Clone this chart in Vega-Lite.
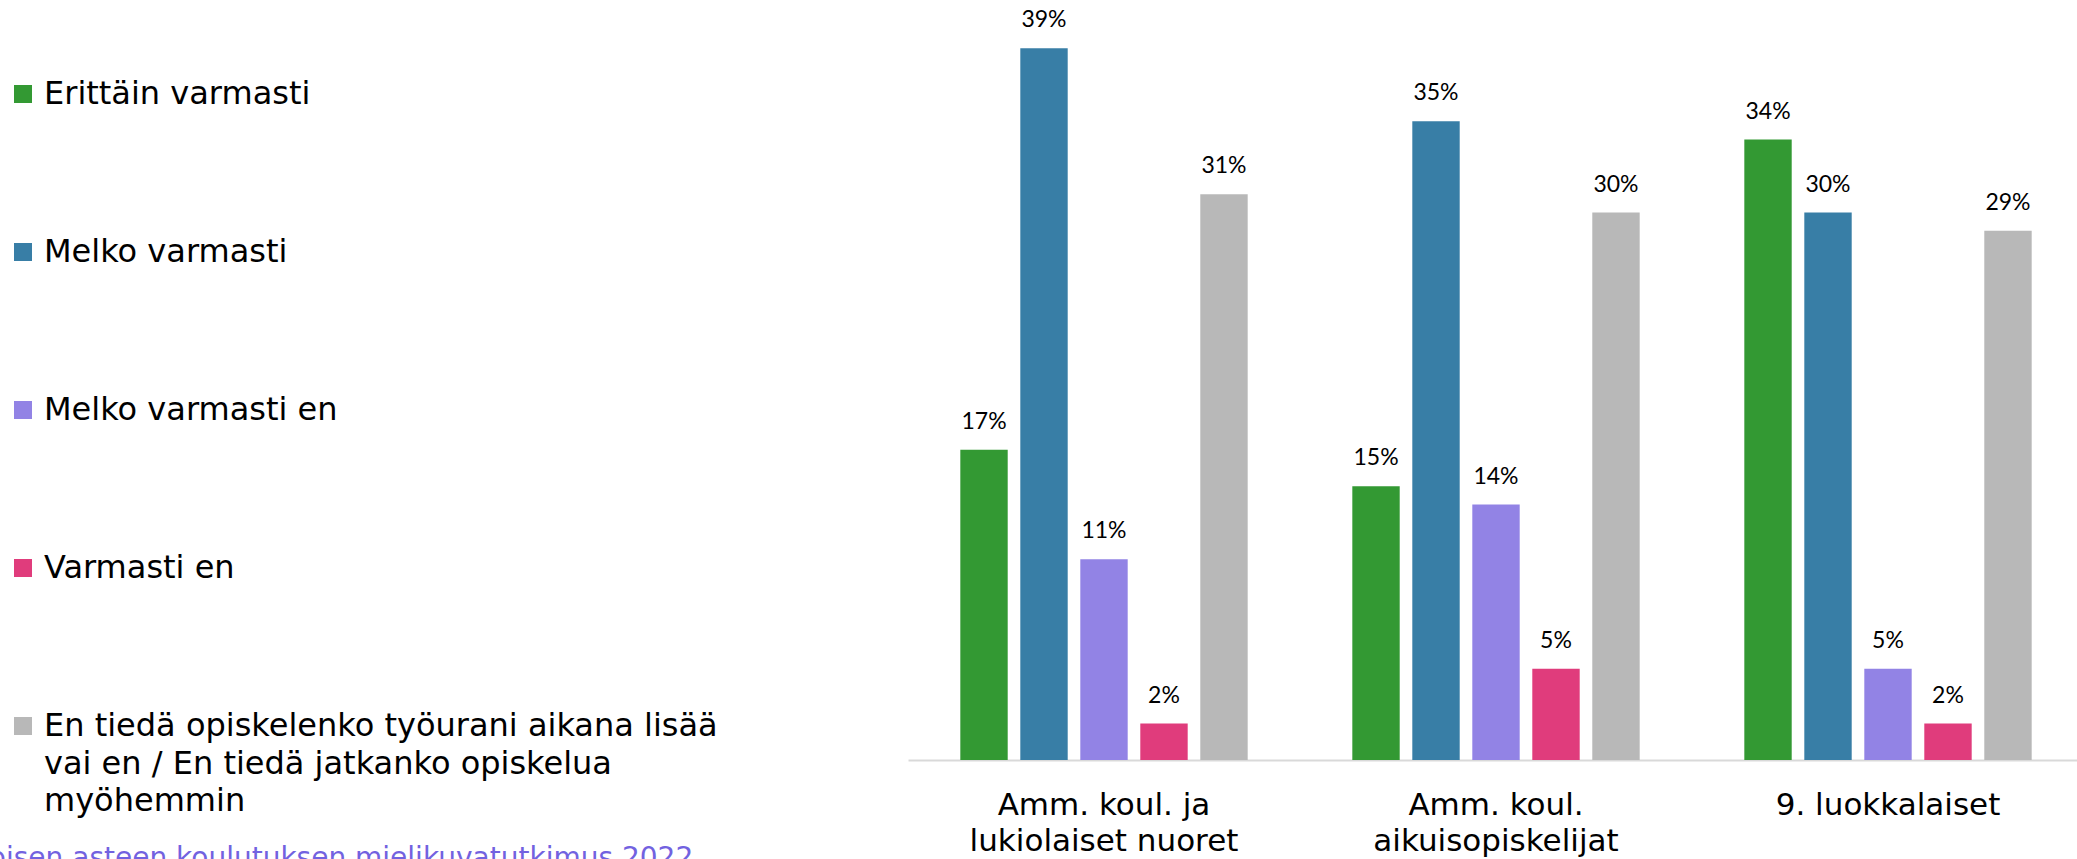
{
  "$schema": "https://vega.github.io/schema/vega-lite/v6.json",
  "width": 1169,
  "height": 730,
  "autosize": {"type": "none"},
  "padding": {"left": 908, "top": 30, "right": 0, "bottom": 99},
  "background": "white",
  "config": {"view": {"stroke": null}, "style": {"guide-label": {"lineHeight": 37.5}}},
  "data": {
    "values": [
      {"ryhma": "Amm. koul. ja lukiolaiset nuoret", "vastaus": "Erittäin varmasti", "osuus": 0.17},
      {"ryhma": "Amm. koul. ja lukiolaiset nuoret", "vastaus": "Melko varmasti", "osuus": 0.39},
      {"ryhma": "Amm. koul. ja lukiolaiset nuoret", "vastaus": "Melko varmasti en", "osuus": 0.11},
      {"ryhma": "Amm. koul. ja lukiolaiset nuoret", "vastaus": "Varmasti en", "osuus": 0.02},
      {"ryhma": "Amm. koul. ja lukiolaiset nuoret", "vastaus": "En tiedä opiskelenko työurani aikana lisää vai en / En tiedä jatkanko opiskelua myöhemmin", "osuus": 0.31},
      {"ryhma": "Amm. koul. aikuisopiskelijat", "vastaus": "Erittäin varmasti", "osuus": 0.15},
      {"ryhma": "Amm. koul. aikuisopiskelijat", "vastaus": "Melko varmasti", "osuus": 0.35},
      {"ryhma": "Amm. koul. aikuisopiskelijat", "vastaus": "Melko varmasti en", "osuus": 0.14},
      {"ryhma": "Amm. koul. aikuisopiskelijat", "vastaus": "Varmasti en", "osuus": 0.05},
      {"ryhma": "Amm. koul. aikuisopiskelijat", "vastaus": "En tiedä opiskelenko työurani aikana lisää vai en / En tiedä jatkanko opiskelua myöhemmin", "osuus": 0.30},
      {"ryhma": "9. luokkalaiset", "vastaus": "Erittäin varmasti", "osuus": 0.34},
      {"ryhma": "9. luokkalaiset", "vastaus": "Melko varmasti", "osuus": 0.30},
      {"ryhma": "9. luokkalaiset", "vastaus": "Melko varmasti en", "osuus": 0.05},
      {"ryhma": "9. luokkalaiset", "vastaus": "Varmasti en", "osuus": 0.02},
      {"ryhma": "9. luokkalaiset", "vastaus": "En tiedä opiskelenko työurani aikana lisää vai en / En tiedä jatkanko opiskelua myöhemmin", "osuus": 0.29}
    ]
  },
  "encoding": {
    "x": {
      "field": "ryhma",
      "type": "nominal",
      "sort": ["Amm. koul. ja lukiolaiset nuoret", "Amm. koul. aikuisopiskelijat", "9. luokkalaiset"],
      "scale": {"range": [0, 1176], "paddingInner": 0, "paddingOuter": 0},
      "axis": {
        "title": "Toisen asteen koulutuksen mielikuvatutkimus 2022",
        "titleX": -932,
        "titleY": 106,
        "titleAlign": "left",
        "titleAnchor": null,
        "titleBaseline": "alphabetic",
        "titleFont": "DejaVu Sans",
        "titleFontSize": 28,
        "titleFontWeight": "normal",
        "titleColor": "#7262E0",
        "labelExpr": "split(replace(replace(datum.label, 'ja lukiolaiset', 'ja|lukiolaiset'), 'koul. aikuis', 'koul.|aikuis'), '|')",
        "labelAngle": 0,
        "labelFont": "DejaVu Sans",
        "labelFontSize": 31,
        "labelColor": "#000000",
        "labelLineHeight": 36,
        "labelBaseline": "top",
        "labelPadding": 30,
        "labelLimit": 0,
        "ticks": false,
        "domainColor": "#D9D9D9",
        "domainWidth": 2,
        "grid": false
      }
    },
    "xOffset": {
      "field": "vastaus",
      "type": "nominal",
      "sort": ["Erittäin varmasti", "Melko varmasti", "Melko varmasti en", "Varmasti en", "En tiedä opiskelenko työurani aikana lisää vai en / En tiedä jatkanko opiskelua myöhemmin"],
      "scale": {"paddingInner": 0.21, "paddingOuter": 0.872}
    },
    "y": {
      "field": "osuus",
      "type": "quantitative",
      "scale": {"domain": [0, 0.4], "nice": false},
      "axis": null
    }
  },
  "layer": [
    {
      "mark": {"type": "bar"},
      "encoding": {
        "color": {
          "field": "vastaus",
          "type": "nominal",
          "sort": ["Erittäin varmasti", "Melko varmasti", "Melko varmasti en", "Varmasti en", "En tiedä opiskelenko työurani aikana lisää vai en / En tiedä jatkanko opiskelua myöhemmin"],
          "scale": {
            "domain": ["Erittäin varmasti", "Melko varmasti", "Melko varmasti en", "Varmasti en", "En tiedä opiskelenko työurani aikana lisää vai en / En tiedä jatkanko opiskelua myöhemmin"],
            "range": ["#339933", "#387EA6", "#9283E5", "#E03C7C", "#B8B8B8"]
          },
          "legend": {
            "orient": "none",
            "legendX": -901,
            "legendY": 48,
            "title": null,
            "padding": 0,
            "direction": "vertical",
            "symbolType": "square",
            "symbolSize": 324,
            "symbolStrokeWidth": 0,
            "symbolOffset": 0,
            "labelFont": "DejaVu Sans",
            "labelFontSize": 32,
            "labelColor": "#000000",
            "labelOffset": 5,
            "labelLimit": 0,
            "rowPadding": 126,
            "labelExpr": "split(replace(replace(datum.label, 'lisää vai', 'lisää|vai'), 'opiskelua myöhemmin', 'opiskelua|myöhemmin'), '|')"
          }
        }
      }
    },
    {
      "mark": {
        "type": "text",
        "dy": -28,
        "baseline": "middle",
        "font": "Lato",
        "fontSize": 23,
        "color": "#000000"
      },
      "encoding": {
        "text": {"field": "osuus", "type": "quantitative", "format": ".0%"}
      }
    }
  ]
}
